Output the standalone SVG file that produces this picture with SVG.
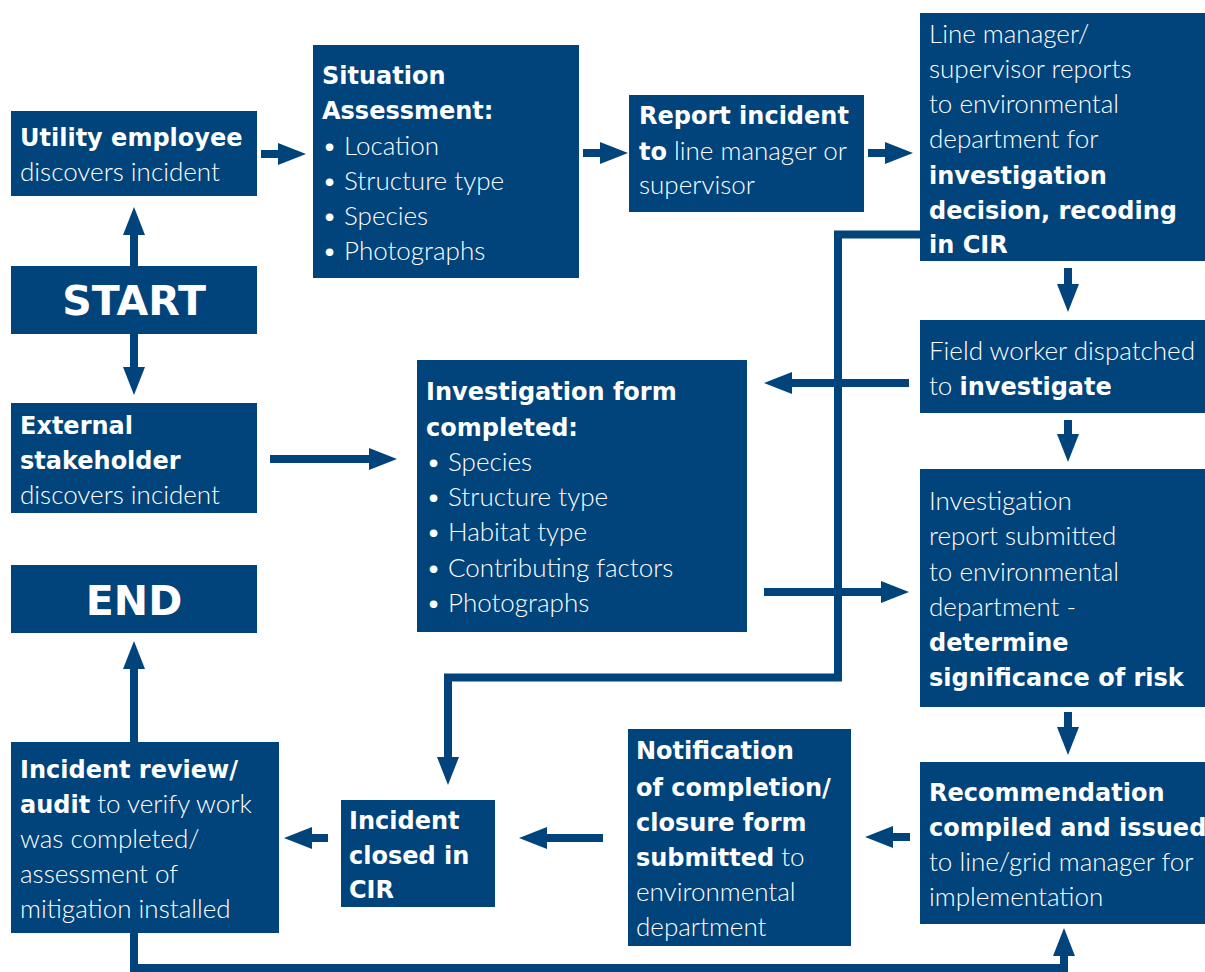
<svg xmlns="http://www.w3.org/2000/svg" width="1205" height="972" viewBox="0 0 1205 972">
<style>
.box{fill:#01447b}
.t{font-family:Lato,"Open Sans","Liberation Sans",sans-serif;font-size:26px;fill:#ffffff;font-weight:300}
.b{font-family:"DejaVu Sans","Liberation Sans",sans-serif;font-size:24px;font-weight:700}
.big{font-family:"DejaVu Sans","Liberation Sans",sans-serif;font-size:41px;fill:#ffffff;font-weight:700;text-anchor:middle}
.c{fill:none;stroke:#01447b;stroke-width:8;stroke-linejoin:miter}
</style>
<defs>
<marker id="ah" markerUnits="userSpaceOnUse" markerWidth="28" markerHeight="22" refX="0" refY="11" orient="auto" overflow="visible">
<path d="M0,0 L28,11 L0,22 z" fill="#01447b"/>
</marker>
</defs>
<rect width="1205" height="972" fill="#ffffff"/>
<g id="connectors">
<path class="c" marker-end="url(#ah)" d="M261,154 H278"/>
<path class="c" marker-end="url(#ah)" d="M583,153 H600"/>
<path class="c" marker-end="url(#ah)" d="M868,153 H885"/>
<path class="c" marker-end="url(#ah)" d="M134,266 V235"/>
<path class="c" marker-end="url(#ah)" d="M134,334 V367"/>
<path class="c" marker-end="url(#ah)" d="M270,459 H369"/>
<path class="c" marker-end="url(#ah)" d="M1068,268 V284"/>
<path class="c" marker-end="url(#ah)" d="M1068,420 V434"/>
<path class="c" marker-end="url(#ah)" d="M1068,712 V727"/>
<path class="c" marker-end="url(#ah)" d="M909,383 H792"/>
<path class="c" marker-end="url(#ah)" d="M764,592 H881"/>
<path class="c" marker-end="url(#ah)" d="M920,234.5 H838 V677.5 H448 V757"/>
<path class="c" marker-end="url(#ah)" d="M910,837 H893"/>
<path class="c" marker-end="url(#ah)" d="M603,838 H547"/>
<path class="c" marker-end="url(#ah)" d="M328,838 H312"/>
<path class="c" marker-end="url(#ah)" d="M134,742 V669"/>
<path class="c" marker-end="url(#ah)" d="M134,933 V968 H1064 V956"/>
</g>
<g id="utility-employee">
<rect class="box" x="11" y="111" width="246" height="85"/>
<text class="t"><tspan class="b" x="20" y="146">Utility employee</tspan><tspan x="20" y="181">discovers incident</tspan></text>
</g>
<g id="start">
<rect class="box" x="11" y="266" width="246" height="68"/>
<text class="big" x="134" y="315">START</text>
</g>
<g id="external-stakeholder">
<rect class="box" x="11" y="403" width="246" height="110"/>
<text class="t"><tspan class="b" x="20" y="434">External</tspan><tspan class="b" x="20" y="469">stakeholder</tspan><tspan x="20" y="504">discovers incident</tspan></text>
</g>
<g id="end">
<rect class="box" x="11" y="565" width="246" height="68"/>
<text class="big" x="134" y="615">END</text>
</g>
<g id="situation-assessment">
<rect class="box" x="313" y="45" width="266" height="233"/>
<text class="t"><tspan class="b" x="322" y="84">Situation</tspan><tspan class="b" x="322" y="119">Assessment:</tspan><tspan x="322" y="155">•</tspan><tspan x="344" y="155">Location</tspan><tspan x="322" y="190">•</tspan><tspan x="344" y="190">Structure type</tspan><tspan x="322" y="225">•</tspan><tspan x="344" y="225">Species</tspan><tspan x="322" y="260">•</tspan><tspan x="344" y="260">Photographs</tspan></text>
</g>
<g id="report-incident">
<rect class="box" x="629" y="95" width="235" height="117"/>
<text class="t"><tspan class="b" x="639" y="124">Report incident</tspan><tspan class="b" x="639" y="160">to</tspan><tspan> line manager or</tspan><tspan x="639" y="194">supervisor</tspan></text>
</g>
<g id="line-manager">
<rect class="box" x="920" y="13" width="285" height="248"/>
<text class="t"><tspan x="929" y="43">Line manager/</tspan><tspan x="929" y="78">supervisor reports</tspan><tspan x="929" y="113">to environmental</tspan><tspan x="929" y="148">department for</tspan><tspan class="b" x="929" y="184">investigation</tspan><tspan class="b" x="929" y="219">decision, recoding</tspan><tspan class="b" x="929" y="253">in CIR</tspan></text>
</g>
<g id="field-worker">
<rect class="box" x="920" y="320" width="285" height="93"/>
<text class="t"><tspan x="929" y="360">Field worker dispatched</tspan><tspan x="929" y="395">to </tspan><tspan class="b">investigate</tspan></text>
</g>
<g id="investigation-form">
<rect class="box" x="417" y="360" width="330" height="272"/>
<text class="t"><tspan class="b" x="426" y="400">Investigation form</tspan><tspan class="b" x="426" y="436">completed:</tspan><tspan x="426" y="471">•</tspan><tspan x="448" y="471">Species</tspan><tspan x="426" y="506">•</tspan><tspan x="448" y="506">Structure type</tspan><tspan x="426" y="541">•</tspan><tspan x="448" y="541">Habitat type</tspan><tspan x="426" y="577">•</tspan><tspan x="448" y="577">Contributing factors</tspan><tspan x="426" y="612">•</tspan><tspan x="448" y="612">Photographs</tspan></text>
</g>
<g id="investigation-report">
<rect class="box" x="920" y="469" width="285" height="238"/>
<text class="t"><tspan x="929" y="510">Investigation</tspan><tspan x="929" y="545">report submitted</tspan><tspan x="929" y="581">to environmental</tspan><tspan x="929" y="616">department -</tspan><tspan class="b" x="929" y="651">determine</tspan><tspan class="b" x="929" y="686">significance of risk</tspan></text>
</g>
<g id="recommendation">
<rect class="box" x="920" y="762" width="285" height="162"/>
<text class="t"><tspan class="b" x="929" y="801">Recommendation</tspan><tspan class="b" x="929" y="836">compiled and issued</tspan><tspan x="929" y="871">to line/grid manager for</tspan><tspan x="929" y="906">implementation</tspan></text>
</g>
<g id="notification">
<rect class="box" x="628" y="729" width="223" height="217"/>
<text class="t"><tspan class="b" x="636" y="759">Notification</tspan><tspan class="b" x="636" y="796">of completion/</tspan><tspan class="b" x="636" y="831">closure form</tspan><tspan class="b" x="636" y="866">submitted</tspan><tspan> to</tspan><tspan x="636" y="901">environmental</tspan><tspan x="636" y="936">department</tspan></text>
</g>
<g id="incident-closed">
<rect class="box" x="341" y="800" width="154" height="107"/>
<text class="t"><tspan class="b" x="349" y="829">Incident</tspan><tspan class="b" x="349" y="864">closed in</tspan><tspan class="b" x="349" y="898">CIR</tspan></text>
</g>
<g id="incident-review">
<rect class="box" x="11" y="742" width="268" height="191"/>
<text class="t"><tspan class="b" x="20" y="778">Incident review/</tspan><tspan class="b" x="20" y="813">audit</tspan><tspan> to verify work</tspan><tspan x="20" y="848">was completed/</tspan><tspan x="20" y="883">assessment of</tspan><tspan x="20" y="918">mitigation installed</tspan></text>
</g>
</svg>
